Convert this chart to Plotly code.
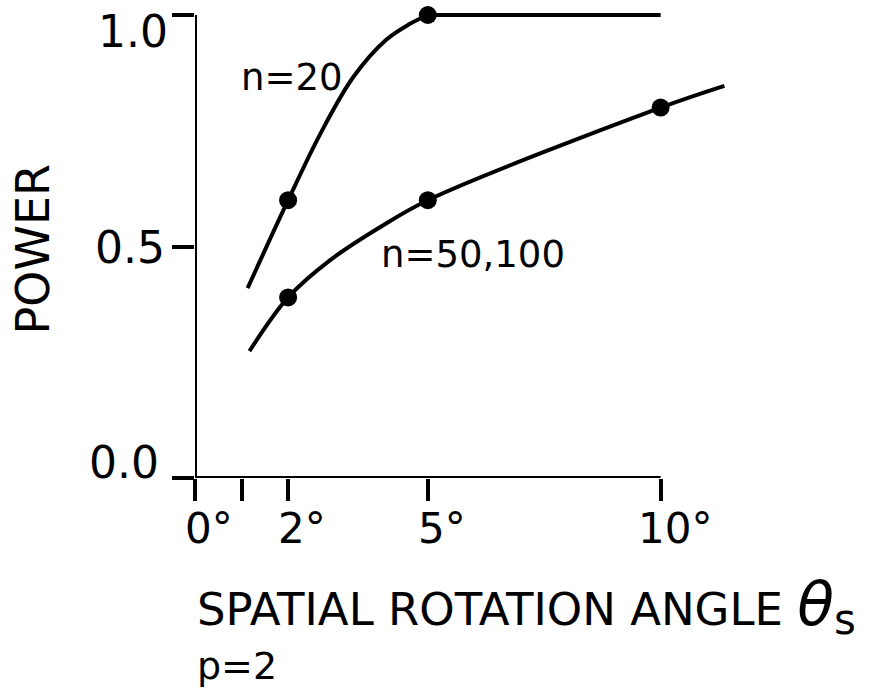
import plotly.graph_objects as go

# Marked results: rotation angle (degrees) and estimated power
angle_n20 = [2, 5]
power_n20 = [0.60, 1.00]
angle_n50 = [2, 5, 10]
power_n50 = [0.39, 0.60, 0.80]

# Hand-drawn fitted curves, read along their path
curve_n20_angle = [1.13, 2, 2.7, 3.4, 4.1, 4.6, 5]
curve_n20_power = [0.41, 0.60, 0.745, 0.866, 0.946, 0.98, 1.0]
plateau_n20_angle = [5, 10]
plateau_n20_power = [1.0, 1.0]
curve_n50_angle = [1.17, 2, 2.91, 3.98, 5, 10, 11.37]
curve_n50_power = [0.274, 0.39, 0.471, 0.542, 0.60, 0.80, 0.847]

# Axis ticks
x_ticks = [0, 1, 2, 5, 10]
x_tick_text = ["0°", "", "2°", "5°", "10°"]
y_ticks = [0.0, 0.5, 1.0]
y_tick_text = ["0.0", "0.5", "1.0"]

FONT = "DejaVu Sans"
INK = "black"
LW = 4

fig = go.Figure()

for xs, ys, shape in [(curve_n20_angle, curve_n20_power, "spline"),
                      (plateau_n20_angle, plateau_n20_power, "linear"),
                      (curve_n50_angle, curve_n50_power, "spline")]:
    fig.add_trace(go.Scatter(
        x=xs, y=ys, mode="lines",
        line=dict(color=INK, width=LW, shape=shape, smoothing=1),
        hoverinfo="skip", showlegend=False,
    ))

for xs, ys in [(angle_n20, power_n20), (angle_n50, power_n50)]:
    fig.add_trace(go.Scatter(
        x=xs, y=ys, mode="markers",
        marker=dict(color=INK, size=18),
        cliponaxis=False, showlegend=False,
    ))

# Axis lines span only the ticked range
fig.add_shape(type="line", xref="x", yref="y",
              x0=min(x_ticks), x1=max(x_ticks), y0=min(y_ticks), y1=min(y_ticks),
              line=dict(color=INK, width=4))
fig.add_shape(type="line", xref="x", yref="y",
              x0=min(x_ticks), x1=min(x_ticks), y0=min(y_ticks), y1=max(y_ticks),
              line=dict(color=INK, width=4))

# Y tick labels, lettered slightly off the tick marks
y_label_offsets = {0.0: (-34, 16), 0.5: (-28, -1), 1.0: (-25, -16)}
for val, txt in zip(y_ticks, y_tick_text):
    dx, dy = y_label_offsets[val]
    fig.add_annotation(x=0, y=val, xref="x", yref="y", text=txt, showarrow=False,
                       xanchor="right", yanchor="middle", xshift=dx, yshift=dy,
                       font=dict(family=FONT, size=44, color=INK))

# X tick labels below the tick marks
for val, txt in zip(x_ticks, x_tick_text):
    if not txt:
        continue
    fig.add_annotation(x=val, y=0, xref="x", yref="paper", text=txt, showarrow=False,
                       xanchor="center", yanchor="top", xshift=14, yshift=-24,
                       font=dict(family=FONT, size=42, color=INK))

# Curve labels
fig.add_annotation(x=2.09, y=0.866, xref="x", yref="y", text="n=20", showarrow=False,
                   font=dict(family=FONT, size=37, color=INK))
fig.add_annotation(x=5.98, y=0.482, xref="x", yref="y", text="n=50,100", showarrow=False,
                   font=dict(family=FONT, size=37, color=INK))

# Axis titles
fig.add_annotation(x=0, y=0.5, xref="paper", yref="y", text="POWER", showarrow=False,
                   textangle=-90, xanchor="center", yanchor="middle", xshift=-163, yshift=-3,
                   font=dict(family=FONT, size=46, color=INK))
fig.add_annotation(x=0, y=0, xref="x", yref="paper", showarrow=False,
                   text="SPATIAL ROTATION ANGLE <span style='font-size:60px'><i>θ</i></span><sub><span style='font-size:42px'>s</span></sub>",
                   xanchor="left", yanchor="middle", yshift=-128,
                   font=dict(family=FONT, size=45, color=INK))
fig.add_annotation(x=0, y=0, xref="x", yref="paper", showarrow=False, text="p=2",
                   xanchor="left", yanchor="middle", yshift=-188,
                   font=dict(family=FONT, size=38, color=INK))

fig.update_xaxes(
    range=[0, 13.96], tickvals=x_ticks,
    ticks="outside", ticklen=22, tickwidth=4, tickcolor=INK,
    showticklabels=False,
    showgrid=False, zeroline=False, showline=False, fixedrange=True,
)
fig.update_yaxes(
    range=[0, 1.0216], tickvals=y_ticks,
    ticks="outside", ticklen=22, tickwidth=4, tickcolor=INK,
    showticklabels=False,
    showgrid=False, zeroline=False, showline=False, fixedrange=True,
)
fig.update_layout(
    width=875, height=691,
    margin=dict(l=195, r=30, t=5, b=213),
    paper_bgcolor="white", plot_bgcolor="white",
    showlegend=False,
)

fig.write_html("out.html")
